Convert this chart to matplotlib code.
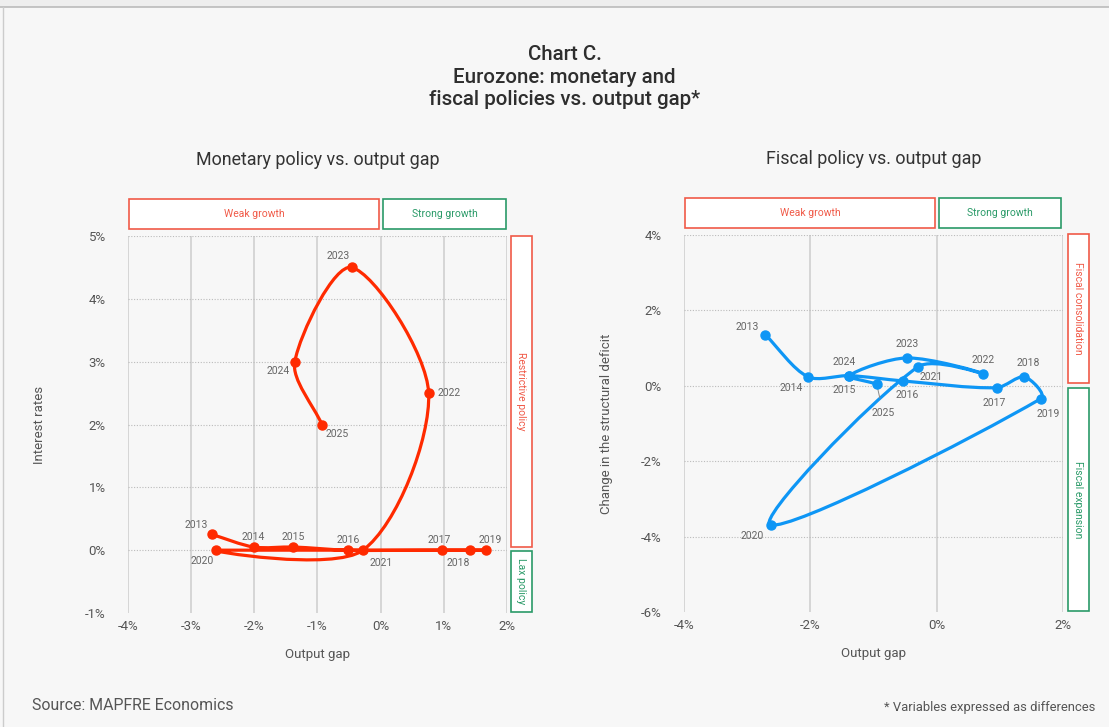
import numpy as np
import matplotlib
matplotlib.use("Agg")
import matplotlib.pyplot as plt
import matplotlib.transforms as mtransforms
from matplotlib.path import Path
from matplotlib.patches import PathPatch, Rectangle

plt.rcParams['font.family'] = ['Roboto', 'DejaVu Sans']

years = ['2013', '2014', '2015', '2016', '2017', '2018', '2019',
         '2020', '2021', '2022', '2023', '2024', '2025']

# monetary policy panel
mon_gap = [-2.67, -2.01, -1.38, -0.52, 0.97, 1.41, 1.66,
           -2.61, -0.28, 0.76, -0.46, -1.36, -0.93]
mon_rate = [0.25, 0.05, 0.05, 0.0, 0.0, 0.0, 0.0,
            0.0, 0.0, 2.5, 4.5, 3.0, 2.0]

# fiscal policy panel
fis_gap = [-2.71, -2.04, -1.38, -0.54, 0.95, 1.39, 1.65,
           -2.63, -0.30, 0.74, -0.47, -1.38, -0.95]
fis_def = [1.35, 0.24, 0.27, 0.13, -0.05, 0.24, -0.34,
           -3.69, 0.50, 0.32, 0.74, 0.27, 0.05]

RED = '#ff2a00'
BLUE = '#0e96f5'
BOX_RED = '#f05a48'
BOX_GREEN = '#2a9a68'
BG = '#f7f7f7'
TXT = '#666666'

# label offsets (points) for year labels
mon_off = [(-11, 7), (0, 7), (0, 7), (0, 7), (-2, 7), (-8, -9), (3, 7),
           (-10, -8), (13, -9), (15, 0), (-10, 8), (-12, -7), (11, -7)]
fis_off = [(-13, 6), (-12, -8), (-4, -10), (3, -10), (-2, -11), (3, 10), (5, -11),
           (-13, -8), (10, -7), (0, 10), (0, 10), (-4, 10), (5, -21)]


def spline_path(xs, ys, sx, sy, tension=0.3):
    # cardinal spline (chart.js style), distances measured in pixels
    n = len(xs)
    px = np.asarray(xs, float) * sx
    py = np.asarray(ys, float) * sy
    prev_c = []
    next_c = []
    for i in range(n):
        a = max(i - 1, 0)
        b = min(i + 1, n - 1)
        d01 = np.hypot(px[i] - px[a], py[i] - py[a])
        d12 = np.hypot(px[b] - px[i], py[b] - py[i])
        tot = d01 + d12
        s01 = d01 / tot if tot else 0
        s12 = d12 / tot if tot else 0
        fa = tension * s01
        fb = tension * s12
        dx = px[b] - px[a]
        dy = py[b] - py[a]
        prev_c.append(((px[i] - fa * dx) / sx, (py[i] - fa * dy) / sy))
        next_c.append(((px[i] + fb * dx) / sx, (py[i] + fb * dy) / sy))
    verts = [(xs[0], ys[0])]
    codes = [Path.MOVETO]
    for i in range(1, n):
        verts += [next_c[i - 1], prev_c[i], (xs[i], ys[i])]
        codes += [Path.CURVE4] * 3
    return Path(verts, codes)


fig = plt.figure(figsize=(11.09, 7.27), dpi=100, facecolor=BG)
fig.patches.append(Rectangle((0, 0.9905), 1, 0.01, transform=fig.transFigure,
                             facecolor='#eeeeee', edgecolor='none'))
fig.add_artist(plt.Line2D([0, 1], [0.9905, 0.9905], transform=fig.transFigure,
                          color='#bbbbbb', lw=1.2))
fig.add_artist(plt.Line2D([0.003, 0.003], [0, 0.9905], transform=fig.transFigure,
                          color='#cccccc', lw=1))

fig.text(0.509, 0.894, 'Chart C.\nEurozone: monetary and\nfiscal policies vs. output gap*',
         ha='center', va='center', fontsize=14.8, color='#2e2e2e', linespacing=1.22,
         fontweight='medium')

ax1 = fig.add_axes([128 / 1109, 114 / 727, 379 / 1109, 377 / 727])
ax2 = fig.add_axes([684 / 1109, 115 / 727, 379 / 1109, 377 / 727])


def setup(ax, ylim, yticks, title, ylabel, ylabelpad, xs, ys, color, offs,
          top_boxes, side_boxes, side_x):
    ax.set_facecolor(BG)
    ax.set_xlim(-4, 2)
    ax.set_ylim(*ylim)
    ax.set_xticks(np.arange(-4, 3, 1) if ylim[0] == -1 else np.arange(-4, 3, 2))
    ax.set_yticks(yticks)
    ax.set_xticklabels([f'{int(v)}%' for v in ax.get_xticks()])
    ax.set_yticklabels([f'{int(v)}%' for v in yticks])
    for s in ax.spines.values():
        s.set_visible(False)
    ax.tick_params(length=0, colors='#555555', labelsize=9.5)
    ax.tick_params(axis='y', pad=16)
    ax.tick_params(axis='x', pad=5)
    for v in ax.get_xticks():
        ax.axvline(v, color='#cccccc', lw=1.1, zorder=0)
    for v in yticks[1:]:
        ax.axhline(v, color='#bbbbbb', lw=0.8, ls=(0, (1, 1.5)), zorder=0)
    ax.set_title(title, fontsize=12.9, color='#333333', pad=51)
    ax.set_xlabel('Output gap', fontsize=9.5, color='#555555', labelpad=11)
    ax.set_ylabel(ylabel, fontsize=9.5, color='#555555', labelpad=ylabelpad)

    sx = 379 / 6
    sy = 377 / (ylim[1] - ylim[0])
    ax.add_patch(PathPatch(spline_path(xs, ys, sx, sy), facecolor='none', edgecolor=color,
                           lw=2.3, zorder=3, capstyle='round'))
    ax.plot(xs, ys, 'o', color=color, ms=6.5, zorder=4, clip_on=False)
    for x, y, yr, off in zip(xs, ys, years, offs):
        ax.annotate(yr, (x, y), xytext=off, textcoords='offset points',
                    ha='center', va='center', fontsize=7.5, color=TXT, zorder=5)

    tb = mtransforms.blended_transform_factory(ax.transData, ax.transAxes)
    for x0, x1, label, col in top_boxes:
        ax.add_patch(Rectangle((x0, 1.019), x1 - x0, 0.079, transform=tb,
                               facecolor='white', edgecolor=col, lw=1.2, clip_on=False))
        ax.text((x0 + x1) / 2, 1.058, label, transform=tb, ha='center', va='center',
                fontsize=7.5, color=col)
    sb = mtransforms.blended_transform_factory(ax.transAxes, ax.transData)
    for y0, y1, label, col in side_boxes:
        ax.add_patch(Rectangle((side_x, y0), 0.055, y1 - y0, transform=sb,
                               facecolor='white', edgecolor=col, lw=1.2, clip_on=False))
        ax.text(side_x + 0.0275, (y0 + y1) / 2, label, transform=sb, ha='center',
                va='center', rotation=-90, fontsize=7.5, color=col)


setup(ax1, (-1, 5), [-1, 0, 1, 2, 3, 4, 5], 'Monetary policy vs. output gap',
      'Interest rates', 28, mon_gap, mon_rate, RED, mon_off,
      [(-3.98, -0.03, 'Weak growth', BOX_RED), (0.03, 1.99, 'Strong growth', BOX_GREEN)],
      [(0.05, 5.0, 'Restrictive policy', BOX_RED), (-0.98, -0.02, 'Lax policy', BOX_GREEN)],
      1.0106)
setup(ax2, (-6, 4), [-6, -4, -2, 0, 2, 4], 'Fiscal policy vs. output gap',
      'Change in the structural deficit', 20, fis_gap, fis_def, BLUE, fis_off,
      [(-3.98, -0.03, 'Weak growth', BOX_RED), (0.03, 1.97, 'Strong growth', BOX_GREEN)],
      [(0.07, 4.03, 'Fiscal consolidation', BOX_RED), (-5.97, -0.07, 'Fiscal expansion', BOX_GREEN)],
      1.0132)

# small leader line for 2025 label on fiscal panel
ax2.annotate('', (fis_gap[-1], fis_def[-1]), xytext=(fis_gap[-1] + 0.06, fis_def[-1] - 0.45),
             arrowprops=dict(arrowstyle='-', color='#888888', lw=0.7))

fig.text(32 / 1109, 1 - 705 / 727, 'Source: MAPFRE Economics', fontsize=11.4,
         color='#555555', va='center')
fig.text(1095 / 1109, 1 - 708 / 727, '* Variables expressed as differences', fontsize=9.35,
         color='#555555', va='center', ha='right')

fig.savefig('out.png', dpi=100, facecolor=BG)
